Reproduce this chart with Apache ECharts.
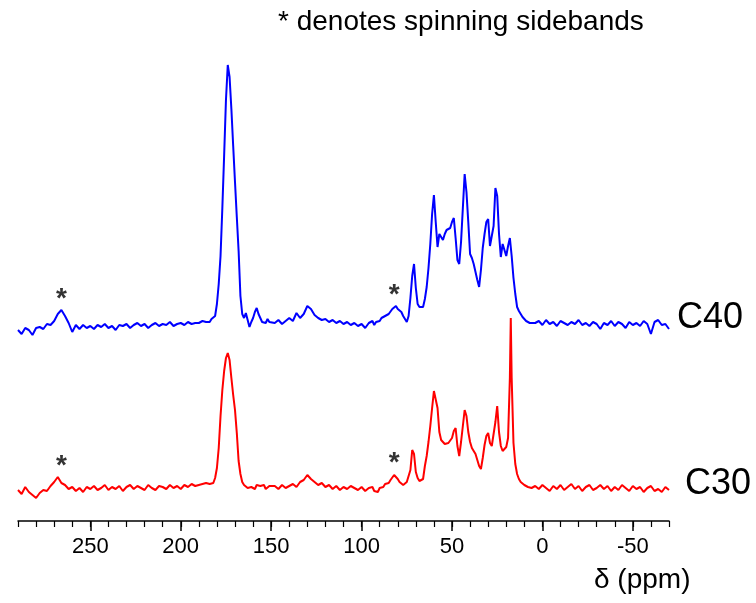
<!DOCTYPE html>
<html>
<head>
<meta charset="utf-8">
<script src="https://cdn.jsdelivr.net/npm/echarts@6/dist/echarts.min.js"></script>
<style>
html,body{margin:0;padding:0;background:#fff;}
#c{width:756px;height:603px;}
</style>
</head>
<body>
<div id="c"></div>
<script>
// chemical shift (ppm) sample positions
const ppm = [
290,288,286,284,282,280,278,276,274,272,270,268,266,264,262,260,258,256,254,252,250,248,246,244,242,240,238,236,234,232,230,228,226,224,222,220,218,216,214,212,210,208,206,204,202,200,198,196,194,192,
190,189,188,187,186,185,184,183,182,181,180,179,178,177,176,175,174,173,172,171,170,169,168,167,166,165,164,163,162,161,160,159,158,157,156,155,154,153,152,151,150,
148,146,144,142,140,138,136,134,132,130,128,126,124,122,120,118,116,114,112,110,108,106,104,102,100,98,96,
95,94,93,92,91,90,89,88,87,86,85,84,83,82,81,80,79,78,77,76,75,74,73,72,71,70,69,68,67,66,65,64,63,62,61,60,59,58,57,56,55,54,53,52,51,50,49,48,47,46,45,44,43,42,41,40,39,38,37,36,35,34,33,32,31,30,29,28,27,26,25,24,23,22,21,20,19,18,17.5,17,16,15,14,13,12,11,10,9,8,7,6,
4,2,0,-2,-4,-6,-8,-10,-12,-14,-16,-18,-20,-22,-24,-26,-28,-30,-32,-34,-36,-38,-40,-42,-44,-46,-48,-50,-52,-54,-56,-58,-60,-62,-64,-66,-68,-70
];

// C40 intensity (relative to its own baseline)
const c40 = [
-4,-8,-2,-4,-9,-2,-1,-3,2,1, 5,12,16,10,3,-6,1,-3,1,-2, 0,-3,1,-1,2,-2,0,-4,1,0, 2,-2,1,3,0,2,-2,1,3,0, 2,1,4,0,2,3,1,4,2,3,
3,2,5,3,4,6,4,7,8,10, 22,42,70,118,171,226,261,249,217,180, 144,109,75,30,12,8,13,6,-1,4, 8,14,18,12,8,4,6,3,7,4, 5,
3,6,2,5,8,5,13,8,12,20, 17,11,8,6,7,4,6,3,5,2, 4,1,3,0,2,-2,3,
2,5,1,4,6,5,8,6,10,9,
12,13,17,19,20,17,19,14,10,7,
4,10,28,50,62,38,22,19,20,19,
27,39,58,82,112,131,104,79,92,90,
86,92,96,94,98,104,108,88,66,62,
84,118,152,134,104,72,68,62,54,46,
39,56,78,92,104,107,80,78,100,138,
130,92,69,82,82,70,80,88,
86,
70,48,32,19,15,12,9,7,5,6,3,4,
3,5,1,6,2,4,0,5,3,1, 4,2,6,1,3,0,4,2,-3,3, 1,5,0,4,2,-2,4,1,3,0, 5,2,-8,4,6,1,2,-3
];

// C30 intensity (relative to its own baseline)
const c30 = [
-2,-6,1,-4,-7,-10,-5,-2,-3,2, 6,11,5,3,-1,1,-3,0,-4,1, -1,2,-2,0,3,-2,1,-1,2,-3, 1,3,-1,2,0,-2,3,0,-2,2, 1,-1,3,0,2,-1,3,1,4,2,
3,1,4,2,5,3,4,5,5,10, 20,40,72,98,117,130,135,128,110,93, 78,55,27,14,6,3,1,0,-2,1, 2,-1,3,5,2,0,3,-1,1,2, 0,
2,-1,3,0,2,4,1,6,8,13, 9,6,3,5,1,3,-1,2,-2,1, -1,2,0,-2,1,-3,0,
-2,1,-3,-5,-4,0,2,1,4,6,
5,8,10,13,14,9,6,5,3,4,
6,8,18,38,34,16,10,7,6,9,
22,32,46,62,80,97,98,80,56,48,
46,44,46,45,47,50,57,60,42,32,
46,62,78,72,56,46,40,38,34,28,
22,19,30,43,52,55,45,42,44,66,
82,56,42,37,38,41,50,110,
170,
110,45,24,14,9,6,4,3,2,1,3,0,
2,-1,3,0,-3,2,-1,3,-2,1, 4,-1,2,-3,1,3,-2,0,3,-1, 2,-3,1,-2,3,0,-3,2,-1,1, -4,0,2,-3,-1,-4,1,-2
];

// spinning sideband positions (ppm)
const sidebands = [266, 82];
const tickLabels = [250, 200, 150, 100, 50, 0, -50];

const C40_OFFSET = 195;
const C30_OFFSET = 33;
const STAR_GAP = 15;

function buildLine(vals, off) {
  return ppm.map((x, i) => [x, vals[i] + off]);
}
function buildStars(vals, off) {
  return sidebands.map(s => {
    let m = -Infinity;
    ppm.forEach((x, i) => { if (Math.abs(x - s) <= 3) m = Math.max(m, vals[i]); });
    return [s, m + off + STAR_GAP];
  });
}

const FONT = '"Liberation Sans", Arial, Helvetica, sans-serif';
const chart = echarts.init(document.getElementById('c'), null, {renderer: 'canvas'});

const starSeries = (data) => ({
  type: 'scatter', xAxisIndex: 0, yAxisIndex: 0, data: data,
  symbolSize: 1, itemStyle: {color: 'rgba(0,0,0,0)'},
  label: {show: true, formatter: '*', position: 'inside', fontSize: 28, fontWeight: 'bold', color: '#000', fontFamily: FONT, offset: [0, 4]},
  silent: true, z: 5
});

chart.setOption({
  animation: false,
  backgroundColor: '#fff',
  grid: [
    {left: 18, right: 87, top: 21, bottom: 82},
    {left: 90.3, right: 123.2, top: 21, bottom: 82}
  ],
  xAxis: [
    {gridIndex: 0, type: 'value', min: -70, max: 290, interval: 10, inverse: true,
     axisLine: {show: true, onZero: false, lineStyle: {color: '#000', width: 1.5}},
     axisTick: {show: true, length: 6, lineStyle: {color: '#000', width: 1.2}},
     axisLabel: {show: false}, splitLine: {show: false}},
    {gridIndex: 1, type: 'value', min: -50, max: 250, interval: 50, inverse: true,
     axisLine: {show: false, onZero: false},
     axisTick: {show: true, length: 10, lineStyle: {color: '#000', width: 1.5}},
     axisLabel: {show: true, fontSize: 22, color: '#000', margin: 15, fontFamily: FONT,
                 formatter: v => tickLabels.includes(v) ? String(v) : ''},
     splitLine: {show: false}}
  ],
  yAxis: [
    {gridIndex: 0, type: 'value', min: 0, max: 500, show: false},
    {gridIndex: 1, type: 'value', min: 0, max: 1, show: false}
  ],
  series: [
    {name: 'C40', type: 'line', xAxisIndex: 0, yAxisIndex: 0, data: buildLine(c40, C40_OFFSET),
     showSymbol: false, symbol: 'none', lineStyle: {color: '#0000ff', width: 2}, z: 3},
    {name: 'C30', type: 'line', xAxisIndex: 0, yAxisIndex: 0, data: buildLine(c30, C30_OFFSET),
     showSymbol: false, symbol: 'none', lineStyle: {color: '#ff0000', width: 2}, z: 3},
    starSeries(buildStars(c40, C40_OFFSET)),
    starSeries(buildStars(c30, C30_OFFSET))
  ],
  graphic: [
    {type: 'text', left: 278, top: 8, style: {text: '* denotes spinning sidebands', font: '28px ' + FONT, fill: '#000'}},
    {type: 'text', left: 677, top: 300, style: {text: 'C40', font: '36px ' + FONT, fill: '#000'}},
    {type: 'text', left: 685, top: 466, style: {text: 'C30', font: '36px ' + FONT, fill: '#000'}},
    {type: 'text', left: 594, top: 566, style: {text: 'δ (ppm)', font: '28px ' + FONT, fill: '#000'}}
  ]
});
</script>
</body>
</html>
